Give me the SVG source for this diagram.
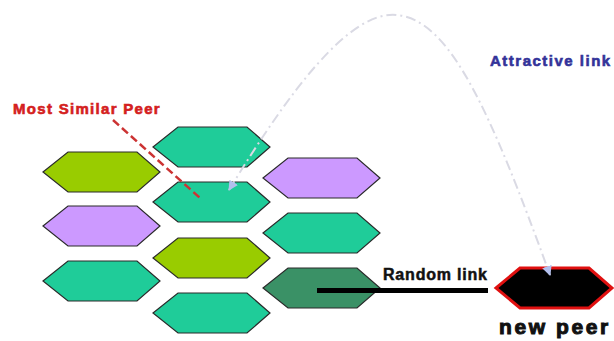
<svg xmlns="http://www.w3.org/2000/svg" width="614" height="341" viewBox="0 0 614 341">
<style>
.hex{stroke:#2a2a2a;stroke-width:1.2}
.yg{fill:#99cc00}
.tl{fill:#1fcc99}
.pu{fill:#cc99ff}
.dg{fill:#3a9166}
.lbl{font-family:"Liberation Sans",Arial,sans-serif;font-weight:bold}
</style>
<defs>
<polygon id="h" points="0,20 25,0 94,0 117,20 94,40 25,40"/>
<marker id="ah" viewBox="0 0 10 10" refX="9" refY="5" markerWidth="5" markerHeight="5" orient="auto-start-reverse" markerUnits="strokeWidth">
<path d="M0,0 L10,5 L0,10 z" fill="#b3c0ee"/>
</marker>
</defs>
<rect width="614" height="341" fill="#ffffff"/>
<g id="c1r1"><use href="#h" x="43" y="152" class="hex yg"/></g>
<g id="c1r2"><use href="#h" x="43" y="206" class="hex pu"/></g>
<g id="c1r3"><use href="#h" x="43" y="261" class="hex tl"/></g>
<g id="c2r1"><use href="#h" x="153" y="127" class="hex tl"/></g>
<g id="c2r2"><use href="#h" x="153" y="182" class="hex tl"/></g>
<g id="c2r3"><use href="#h" x="153" y="238" class="hex yg"/></g>
<g id="c2r4"><use href="#h" x="153" y="293" class="hex tl"/></g>
<g id="c3r1"><use href="#h" x="263" y="158" class="hex pu"/></g>
<g id="c3r2"><use href="#h" x="263" y="213" class="hex tl"/></g>
<g id="c3r3"><use href="#h" x="263" y="268" class="hex dg"/></g>
<g id="newpeer">
<polygon points="496,288 520,268 589,268 612,288 589,308 520,308" fill="#000" stroke="#e01010" stroke-width="3"/>
<text x="499" y="334" class="lbl" font-size="21" letter-spacing="2.6" fill="#111" stroke="#111" stroke-width="1">new peer</text>
</g>
<g id="connectors">
<path d="M229,190 C290,90 350,10 397,15 C450,20 490,110 550,275" fill="none" stroke="#dadae4" stroke-width="2" stroke-dasharray="10,4,2,4" marker-start="url(#ah)" marker-end="url(#ah)"/>
<line x1="113" y1="120" x2="200" y2="198" stroke="#cc3333" stroke-width="2.5" stroke-dasharray="8,4"/>
<line x1="317" y1="290.5" x2="488" y2="290.5" stroke="#000" stroke-width="5"/>
</g>
<g id="labels">
<text x="13" y="114" class="lbl" font-size="15" letter-spacing="1.3" fill="#d42020" stroke="#d42020" stroke-width="0.6">Most Similar Peer</text>
<text x="490" y="66" class="lbl" font-size="15" letter-spacing="1.5" fill="#333399" stroke="#333399" stroke-width="0.6">Attractive link</text>
<text x="383" y="280" class="lbl" font-size="16" letter-spacing="0.8" fill="#111" stroke="#111" stroke-width="0.5">Random link</text>
</g>
</svg>
